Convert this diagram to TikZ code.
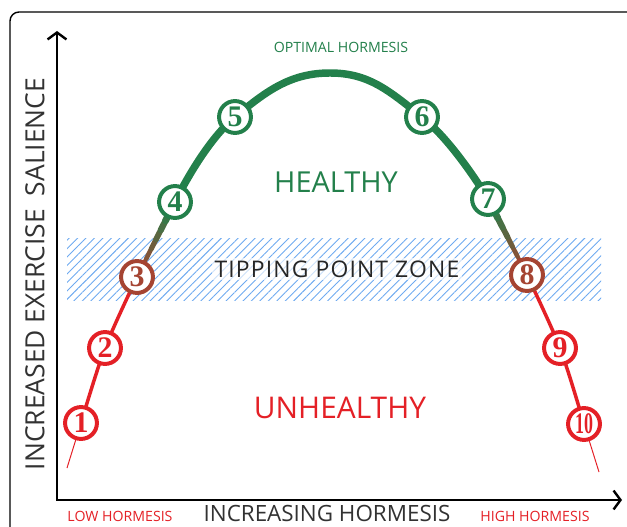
\documentclass[tikz,border=0pt]{standalone}
\usepackage{fontspec}
\usepackage{graphicx}
\setmainfont{Open Sans}
\newfontfamily\numfont{Liberation Serif}
\usetikzlibrary{arrows.meta,patterns.meta,shadows,calc,backgrounds}
\definecolor{hgreen}{RGB}{35,128,75}
\definecolor{hred}{RGB}{228,32,38}
\definecolor{hbrown}{RGB}{165,68,50}
\definecolor{hatchblue}{RGB}{110,170,240}
\definecolor{axisgray}{RGB}{50,50,50}

\begin{document}
\begin{tikzpicture}[x=1bp, y=-1bp,
  stage/.style={circle, draw=#1, fill=white, line width=4pt, minimum size=32pt, inner sep=0pt,
    text=#1, font=\numfont\bfseries\fontsize{30}{30}\selectfont,
    drop shadow={opacity=0.3, shadow xshift=1.5pt, shadow yshift=-1.5pt}},
  axis/.style={line width=2.4pt, {Straight Barb[length=7pt,width=19pt]}-{Straight Barb[length=7pt,width=19pt]}},
  redline/.style={hred, line width=3.5pt, line cap=round},
  greenline/.style={hgreen, line width=7.5pt, line cap=round},
  tailline/.style={hred, line width=1pt},
  zone/.style={font=\fontsize{14.2}{14.2}\selectfont, text=#1}]
\useasboundingbox (0,0) rectangle (627,527);
\draw[line width=1.4pt, rounded corners=9] (10,540) -- (10,12) -- (640,12);

\coordinate (ytop) at (57,31);
\coordinate (O) at (57,500);
\coordinate (xend) at (622,500);
\draw[axis] (ytop) -- (O) -- (xend);

\coordinate (t0) at (67,468);
\coordinate (top) at (330,73);
\coordinate (t1) at (599,472);

\node[stage=hred] (n1) at (81,423) {1};
\node[stage=hred] (n2) at (105,348) {2};
\node[stage=hbrown] (n3) at (137,277) {3};
\node[stage=hgreen] (n4) at (175,202) {4};
\node[stage=hgreen] (n5) at (235,117) {5};
\node[stage=hgreen] (n6) at (422,117) {6};
\node[stage=hgreen] (n7) at (488,199) {7};
\node[stage=hbrown] (n8) at (527,275) {8};
\node[stage=hred] (n9) at (560,348) {9};
\node[stage=hred] (n10) at (584,424) {\scalebox{0.6}[1]{10}};

\begin{scope}[on background layer]
\fill[pattern={Lines[angle=45, distance=6pt, line width=0.9pt]}, pattern color=hatchblue] (67,238) rectangle (601,300);
\draw[tailline] (t0) -- (n1.center);
\draw[redline] plot[smooth] coordinates {(n1.center) (n2.center) (n3.center)};
\foreach \k [evaluate=\k as \pct using int(100*\k/7)] in {0,...,7} {
  \draw[line width=3.5pt+\k*0.55pt, color=hgreen!\pct!hbrown, line cap=round]
    ($(n3.center)!\k/8!(n4.center)$) -- ($(n3.center)!\k/8+1/8!(n4.center)$);
  \draw[line width=3.5pt+\k*0.55pt, color=hgreen!\pct!hbrown, line cap=round]
    ($(n8.center)!\k/8!(n7.center)$) -- ($(n8.center)!\k/8+1/8!(n7.center)$);
}
\draw[greenline] plot[smooth, tension=0.75] coordinates {(n4.center) (n5.center) (top) (n6.center) (n7.center)};
\draw[redline] plot[smooth] coordinates {(n8.center) (n9.center) (n10.center)};
\draw[tailline] (n10.center) -- (t1);
\end{scope}

\node[fill=white, fill opacity=0.65, text opacity=1, inner sep=3pt, font=\addfontfeatures{LetterSpace=5}\fontsize{23}{23}\selectfont, text=black!85] (tip) at (337,269) {TIPPING POINT ZONE};
\node[font=\fontsize{29}{29}\selectfont, text=hgreen] (healthy) at (336,182) {HEALTHY};
\node[font=\fontsize{30}{30}\selectfont, text=hred] (unhealthy) at (340,408) {UNHEALTHY};
\node[zone=hgreen] (optimal) at (341,47) {OPTIMAL HORMESIS};
\node[font=\fontsize{26.5}{26.5}\selectfont, text=axisgray, rotate=90] (ylabel) at (35,274) {INCREASED EXERCISE\hspace{6pt} SALIENCE};
\node[font=\fontsize{22.5}{22.5}\selectfont, text=axisgray, anchor=base, inner sep=0pt] (xlabel) at (327,521) {INCREASING HORMESIS};
\node[zone=hred, anchor=base] (low) at (120,521) {LOW HORMESIS};
\node[zone=hred, anchor=base] (high) at (535,521) {HIGH HORMESIS};
\end{tikzpicture}
\end{document}
